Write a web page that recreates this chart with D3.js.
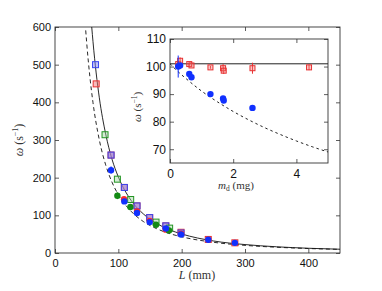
<!DOCTYPE html>
<html>
<head>
<meta charset="utf-8">
<script src="https://cdn.jsdelivr.net/npm/d3@7"></script>
<style>
  body { margin: 0; background: #fff; }
  svg { display: block; }
</style>
</head>
<body>
<script>
const width = 382;
const height = 291;

// main plot: omega (s^-1) against L (mm)
const xTicksMain = [0, 100, 200, 300, 400];
const yTicksMain = [0, 100, 200, 300, 400, 500, 600];

const redSqL = [65, 88.5, 109.5, 129.5, 149.5, 175, 199, 242, 284];
const redSqW = [449, 260, 174, 125, 94, 72, 55, 36, 27];
const blueSqL = [64, 88.5, 109.5, 129.5, 149.5, 175, 199];
const blueSqW = [500, 260, 174, 125, 94, 72, 53];
const greenSqL = [79, 98.5, 119.5, 159.5, 181];
const greenSqW = [314, 196, 142, 82, 66];

const redCirL = [109, 129.5, 149.5, 175, 199];
const redCirW = [143, 110, 85, 62, 51];
const blueCirL = [88.5, 109.5, 129.5, 149.5, 175, 199, 242, 284];
const blueCirW = [220, 137, 106, 82, 65, 49, 35, 27];
const blueCirErr = [10, 4, 4, 3, 3, 3, 2, 2];
const greenCirL = [98.5, 119, 159.5, 180];
const greenCirW = [152, 122, 75, 60];
const greenCirErr = [9, 4, 3, 3];

// model curves
const solidL = [58, 60, 65, 70, 80, 90, 100, 120, 140, 160, 180, 200, 250, 300, 350, 400, 450];
const solidW = [600, 561, 478, 412, 316, 249, 202, 140, 103, 79, 62, 50.5, 32, 22.4, 16.5, 12.6, 10];
const dashL = [48.5, 50, 55, 60, 70, 80, 90, 100, 120, 140, 160, 180, 200, 250, 300, 350, 400, 450];
const dashW = [591, 559, 469, 399, 300, 234, 188, 155, 111, 83, 65, 52, 43, 28.5, 20.3, 15.3, 11.9, 9.6];

// inset: omega against m_d (mg)
const xTicksIn = [0, 2, 4];
const yTicksIn = [70, 80, 90, 100, 110];
const inRedM = [0.26, 0.32, 0.61, 0.68, 1.28, 1.68, 1.70, 2.61, 4.40];
const inRedW = [100.9, 102.1, 100.9, 100.4, 99.7, 99.4, 98.5, 99.4, 99.7];
const inRedErr = [1.0, 1.2, 0.5, 0.5, 0.5, 1.5, 1.2, 2.0, 1.0];
const inBlueM = [0.26, 0.32, 0.61, 0.68, 1.28, 1.68, 1.70, 2.61];
const inBlueW = [100, 100.4, 97.3, 96.1, 90, 88.4, 87.7, 85];
const inBlueErr = [4, 0.5, 0.5, 0.5, 0.5, 0.5, 0.5, 0.5];
const inLevel = 101;
const inDashM = [0, 0.25, 0.5, 1, 1.5, 2, 2.5, 3, 3.5, 4, 4.5, 5];
const inDashW = [101, 98.2, 95.7, 91.1, 87.2, 83.7, 80.6, 77.8, 75.3, 73.0, 70.9, 69.0];

const tickFont = "Liberation Sans, Arial, sans-serif";
const texFont = "Liberation Serif, DejaVu Serif, serif";

const svg = d3.select("body").append("svg")
  .attr("width", width)
  .attr("height", height);

const x = d3.scaleLinear().domain([0, 450]).range([55, 340]);
const y = d3.scaleLinear().domain([0, 600]).range([253, 27]);

svg.append("clipPath").attr("id", "clipMain")
  .append("rect").attr("x", 55).attr("y", 27).attr("width", 285).attr("height", 226);

function frame(g, xs, ys, xt, yt, fs) {
  const [x0, x1] = xs.range();
  const [y0, y1] = ys.range();
  const fmt = d3.format("d");
  g.append("g").attr("transform", `translate(0,${y0})`)
    .call(d3.axisBottom(xs).tickValues(xt).tickFormat(fmt).tickSize(-4).tickPadding(6).tickSizeOuter(0))
    .call((a) => a.select(".domain").remove());
  g.append("g").attr("transform", `translate(0,${y1})`)
    .call(d3.axisTop(xs).tickValues(xt).tickSize(-4).tickFormat("").tickSizeOuter(0))
    .call((a) => a.select(".domain").remove());
  g.append("g").attr("transform", `translate(${x0},0)`)
    .call(d3.axisLeft(ys).tickValues(yt).tickFormat(fmt).tickSize(-4).tickPadding(4).tickSizeOuter(0))
    .call((a) => a.select(".domain").remove());
  g.append("g").attr("transform", `translate(${x1},0)`)
    .call(d3.axisRight(ys).tickValues(yt).tickSize(-4).tickFormat("").tickSizeOuter(0))
    .call((a) => a.select(".domain").remove());
  g.selectAll(".tick line").attr("stroke", "#333").attr("stroke-width", 0.8);
  g.selectAll(".tick text")
    .attr("font-family", tickFont)
    .attr("font-size", fs)
    .attr("fill", "#111");
  g.append("rect")
    .attr("x", x0).attr("y", y1)
    .attr("width", x1 - x0).attr("height", y0 - y1)
    .attr("fill", "none").attr("stroke", "#333").attr("stroke-width", 0.9);
}

const main = svg.append("g");
frame(main, x, y, xTicksMain, yTicksMain, 11);

const plot = main.append("g").attr("clip-path", "url(#clipMain)");

const curve = (xs, ys) => d3.line().x((d) => xs(d[0])).y((d) => ys(d[1])).curve(d3.curveMonotoneX);

plot.append("path")
  .datum(dashL.map((l, i) => [l, dashW[i]]))
  .attr("d", curve(x, y))
  .attr("fill", "none").attr("stroke", "#111").attr("stroke-width", 0.9)
  .attr("stroke-dasharray", "4,3");
plot.append("path")
  .datum(solidL.map((l, i) => [l, solidW[i]]))
  .attr("d", curve(x, y))
  .attr("fill", "none").attr("stroke", "#111").attr("stroke-width", 0.9);

function squares(g, xs, ys, X, Y, stroke, fill, s) {
  g.append("g").selectAll("rect")
    .data(X.map((v, i) => [v, Y[i]]))
    .join("rect")
    .attr("x", (d) => xs(d[0]) - s / 2)
    .attr("y", (d) => ys(d[1]) - s / 2)
    .attr("width", s).attr("height", s)
    .attr("fill", fill).attr("stroke", stroke).attr("stroke-width", 1);
}

function errbars(g, xs, ys, X, Y, E, color) {
  g.append("g").selectAll("line")
    .data(X.map((v, i) => [v, Y[i], E ? E[i] : 0]).filter((d) => d[2] > 0))
    .join("line")
    .attr("x1", (d) => xs(d[0])).attr("x2", (d) => xs(d[0]))
    .attr("y1", (d) => ys(d[1] - d[2])).attr("y2", (d) => ys(d[1] + d[2]))
    .attr("stroke", color).attr("stroke-width", 1);
}

function circles(g, xs, ys, X, Y, E, color, r) {
  errbars(g, xs, ys, X, Y, E, color);
  g.append("g").selectAll("circle")
    .data(X.map((v, i) => [v, Y[i]]))
    .join("circle")
    .attr("cx", (d) => xs(d[0]))
    .attr("cy", (d) => ys(d[1]))
    .attr("r", r)
    .attr("fill", color);
}

squares(plot, x, y, redSqL, redSqW, "#e83030", "rgba(240,120,120,0.5)", 6);
squares(plot, x, y, blueSqL, blueSqW, "#3a46f0", "rgba(125,130,250,0.5)", 6);
squares(plot, x, y, greenSqL, greenSqW, "#239423", "rgba(160,215,160,0.45)", 6);
circles(plot, x, y, redCirL, redCirW, null, "#ff2a2a", 3.2);
circles(plot, x, y, greenCirL, greenCirW, greenCirErr, "#148a14", 3.2);
circles(plot, x, y, blueCirL, blueCirW, blueCirErr, "#1030ff", 3.2);

// main axis labels
const yl = svg.append("text")
  .attr("transform", "translate(23,140) rotate(-90)")
  .attr("text-anchor", "middle")
  .attr("font-family", texFont).attr("font-size", 12).attr("fill", "#333");
yl.append("tspan").attr("font-style", "italic").text("ω");
yl.append("tspan").text(" (s");
yl.append("tspan").attr("font-size", 8).attr("dy", -5).text("−1");
yl.append("tspan").attr("dy", 5).text(")");

const xl = svg.append("text")
  .attr("x", 197).attr("y", 279)
  .attr("text-anchor", "middle")
  .attr("font-family", texFont).attr("font-size", 12).attr("fill", "#333");
xl.append("tspan").attr("font-style", "italic").text("L");
xl.append("tspan").text(" (mm)");

// inset
const xi = d3.scaleLinear().domain([0, 5]).range([170, 328]);
const yi = d3.scaleLinear().domain([65, 110]).range([163, 39]);

svg.append("rect")
  .attr("x", 170).attr("y", 39).attr("width", 158).attr("height", 124)
  .attr("fill", "#fff");
svg.append("clipPath").attr("id", "clipIn")
  .append("rect").attr("x", 170).attr("y", 39).attr("width", 158).attr("height", 124);

const inset = svg.append("g");
frame(inset, xi, yi, xTicksIn, yTicksIn, 12);
const ip = inset.append("g").attr("clip-path", "url(#clipIn)");

ip.append("line")
  .attr("x1", xi(0)).attr("x2", xi(5))
  .attr("y1", yi(inLevel)).attr("y2", yi(inLevel))
  .attr("stroke", "#222").attr("stroke-width", 1);
ip.append("path")
  .datum(inDashM.map((m, i) => [m, inDashW[i]]))
  .attr("d", curve(xi, yi))
  .attr("fill", "none").attr("stroke", "#222").attr("stroke-width", 1)
  .attr("stroke-dasharray", "2.5,3");

errbars(ip, xi, yi, inRedM, inRedW, inRedErr, "#e83030");
squares(ip, xi, yi, inRedM, inRedW, "#e83030", "rgba(240,120,120,0.4)", 5);
circles(ip, xi, yi, inBlueM, inBlueW, inBlueErr, "#1030ff", 3.2);

const iyl = svg.append("text")
  .attr("transform", "translate(141,107) rotate(-90)")
  .attr("text-anchor", "middle")
  .attr("font-family", texFont).attr("font-size", 11).attr("fill", "#333");
iyl.append("tspan").attr("font-style", "italic").text("ω");
iyl.append("tspan").text(" (s");
iyl.append("tspan").attr("font-size", 7.5).attr("dy", -4.5).text("−1");
iyl.append("tspan").attr("dy", 4.5).text(")");

const ixl = svg.append("text")
  .attr("x", 236).attr("y", 189)
  .attr("text-anchor", "middle")
  .attr("font-family", texFont).attr("font-size", 11).attr("fill", "#333");
ixl.append("tspan").attr("font-style", "italic").text("m");
ixl.append("tspan").attr("font-size", 7.5).attr("dy", 2).text("d");
ixl.append("tspan").attr("dy", -2).text(" (mg)");
</script>
</body>
</html>
